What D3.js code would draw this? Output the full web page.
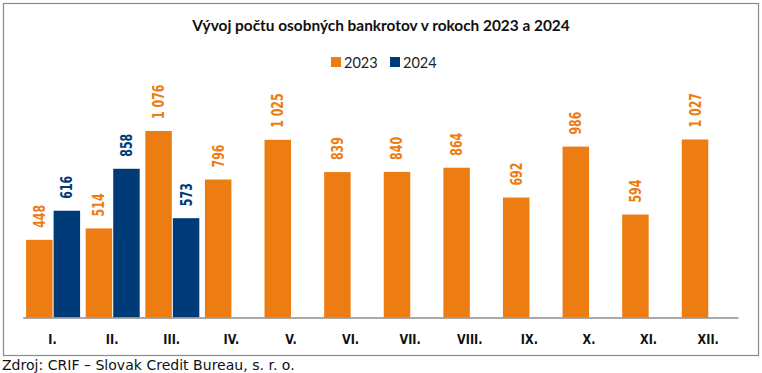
<!DOCTYPE html>
<html>
<head>
<meta charset="utf-8">
<script src="https://cdn.jsdelivr.net/npm/d3@7"></script>
<style>
  body { margin: 0; background: #fff; }
  svg { display: block; }
  .dv { font-family: "DejaVu Sans", Verdana, sans-serif; }
</style>
</head>
<body>
<svg id="chart"></svg>
<script>
var months = ["I.", "II.", "III.", "IV.", "V.", "VI.", "VII.", "VIII.", "IX.", "X.", "XI.", "XII."]
var series = ["2023", "2024"]
var values2023 = [448, 514, 1076, 796, 1025, 839, 840, 864, 692, 986, 594, 1027]
var values2024 = [616, 858, 573]
var colors = ["#ED7D12", "#003B79"]

var dimensions = {
    width: 762,
    height: 373,
    margin: { top: 109.5, bottom: 55, right: 24, left: 22.7 }
}

var svg = d3.select("#chart")
    .attr("width", dimensions.width)
    .attr("height", dimensions.height)

// frame
svg.append("rect")
    .attr("x", 3.5).attr("y", 3.5)
    .attr("width", 755).attr("height", 352)
    .attr("fill", "none")
    .attr("stroke", "#8a8a8a")
    .attr("stroke-width", 1.2)

var baseY = dimensions.height - dimensions.margin.bottom - 0.5

var xScale = d3.scaleBand()
    .domain(months)
    .range([dimensions.margin.left, dimensions.width - dimensions.margin.right])

var xSub = d3.scaleBand()
    .domain(series)
    .range([3.4, 57.4])
    .paddingInner(0.037)

var yScale = d3.scaleLinear()
    .domain([0, 1200])
    .range([baseY, dimensions.margin.top])

var rows = []
months.forEach(function(m, i) {
    rows.push({ month: m, key: "2023", value: values2023[i], color: colors[0] })
    if (i < values2024.length)
        rows.push({ month: m, key: "2024", value: values2024[i], color: colors[1] })
})

svg.selectAll("rect.bar")
    .data(rows)
    .enter()
    .append("rect")
    .attr("class", "bar")
    .attr("x", d => xScale(d.month) + xSub(d.key))
    .attr("y", d => yScale(d.value))
    .attr("width", xSub.bandwidth())
    .attr("height", d => baseY - yScale(d.value))
    .attr("fill", d => d.color)

var fmt = d => d >= 1000 ? Math.floor(d / 1000) + "\u00a0" + String(d % 1000).padStart(3, "0") : String(d)

// the labels in the picture are tall and narrow, so squeeze them along the text
var vals = svg.selectAll("text.val")
    .data(rows)
    .enter()
    .append("text")
    .attr("class", "val dv")
    .attr("text-anchor", "start")
    .style("font-weight", "bold")
    .style("font-size", "15px")
    .attr("fill", d => d.color)
    .text(d => fmt(d.value))

var w448 = vals.filter(d => d.value == 448).node().getComputedTextLength()
var kVal = 23 / w448
vals.attr("transform", d => "translate(" + (xScale(d.month) + xSub(d.key) + xSub.bandwidth() / 2 + 5.5) + "," + (yScale(d.value) - 12) + ") rotate(-90) scale(" + kVal + ",1)")

// axis
var xAxisgen = d3.axisBottom().scale(xScale).tickSize(0).tickPadding(0)
var xAxis = svg.append("g")
    .attr("transform", "translate(0," + baseY + ")")
    .call(xAxisgen)
xAxis.attr("font-family", null).attr("font-size", null)
xAxis.select(".domain").attr("stroke", "#8c8c8c").attr("stroke-width", 1.3)
var ticks = xAxis.selectAll("text")
    .attr("class", "dv")
    .attr("y", 0)
    .attr("dy", null)
    .style("font-weight", "bold")
    .style("font-size", "13.7px")
    .attr("fill", "#111")
    .attr("transform", "translate(0,26.5) scale(0.82,1)")

// title
svg.append("text")
    .attr("x", 381)
    .attr("y", 31)
    .attr("text-anchor", "middle")
    .style("font-family", "Lato, sans-serif")
    .style("font-weight", "bold")
    .style("font-size", "15.4px")
    .attr("fill", "#111")
    .text("Vývoj počtu osobných bankrotov v rokoch 2023 a 2024")

// legend
var legendX = [331, 390]
var legend = svg.selectAll("g.legend")
    .data(series)
    .enter()
    .append("g")
    .attr("class", "legend")
    .attr("transform", (d, i) => "translate(" + legendX[i] + ",57)")
legend.append("rect")
    .attr("width", 10).attr("height", 10)
    .attr("fill", (d, i) => colors[i])
legend.append("text")
    .attr("x", 13).attr("y", 11)
    .style("font-family", "Lato, sans-serif")
    .style("font-size", "14.5px")
    .attr("fill", "#222")
    .text(d => d)

// source
var src = svg.append("text")
    .attr("class", "dv")
    .attr("x", 2)
    .attr("y", 370)
    .style("font-size", "11px")
    .attr("fill", "#111")
    .text("Zdroj: CRIF – Slovak Credit Bureau, s. r. o.")
var wSrc = src.node().getComputedTextLength()
src.style("font-size", (11 * 293 / wSrc) + "px")
</script>
</body>
</html>
